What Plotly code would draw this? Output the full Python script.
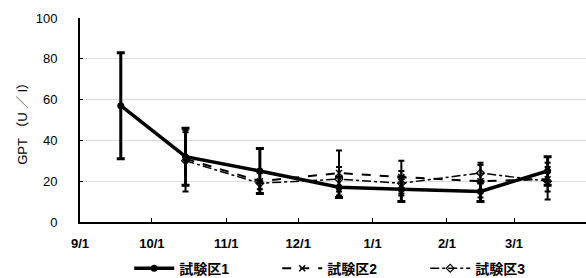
import plotly.graph_objects as go

# ---- data ----
dates1 = ["2010-09-18", "2010-10-15", "2010-11-15", "2010-12-18", "2011-01-13", "2011-02-15", "2011-03-15"]
s1 = [57, 32, 25, 17, 16, 15, 25]
e1 = [26, 14, 11, 5, 6, 5, 7]

dates23 = ["2010-10-15", "2010-11-15", "2010-12-18", "2011-01-13", "2011-02-15", "2011-03-15"]
s2 = [31, 20, 24, 22, 20, 21]
e2 = [13, 4, 11, 8, 8, 6]
s3 = [30, 19, 21, 19, 24, 20]
e3 = [15, 5, 6, 6, 5, 9]

names = ["試験区1", "試験区2", "試験区3"]
tick_vals = ["2010-09-01", "2010-10-01", "2010-11-01", "2010-12-01", "2011-01-01", "2011-02-01", "2011-03-01"]
tick_text = ["9/1", "10/1", "11/1", "12/1", "1/1", "2/1", "3/1"]
y_ticks = [0, 20, 40, 60, 80, 100]
y_title = "GPT （U ／ l）"

FONT = "Liberation Sans Narrow, Arial Narrow, Liberation Sans, Noto Sans CJK JP"

fig = go.Figure()
fig.add_trace(go.Scatter(
    x=dates23, y=s3, name=names[2], mode="lines+markers",
    line=dict(color="black", width=1.5, dash="dashdot"),
    marker=dict(symbol="diamond-open", size=6, color="black", line=dict(width=1.2)),
    error_y=dict(type="data", array=e3, color="black", thickness=2, width=3),
))
fig.add_trace(go.Scatter(
    x=dates23, y=s2, name=names[1], mode="lines+markers",
    line=dict(color="black", width=2, dash="dash"),
    marker=dict(symbol="x-thin", size=6, color="black", line=dict(width=1.5, color="black")),
    error_y=dict(type="data", array=e2, color="black", thickness=2, width=3),
))
fig.add_trace(go.Scatter(
    x=dates1, y=s1, name=names[0], mode="lines+markers",
    line=dict(color="black", width=3.5),
    marker=dict(symbol="circle", size=7, color="black"),
    error_y=dict(type="data", array=e1, color="black", thickness=3, width=4),
))

fig.update_layout(
    width=586, height=278,
    margin=dict(l=80, r=0, t=18, b=56, autoexpand=False),
    paper_bgcolor="white", plot_bgcolor="white",
    font=dict(family=FONT, size=12, color="black"),
    showlegend=True,
    legend=dict(orientation="h", x=0.536, xanchor="center", y=-0.15, yanchor="top",
                traceorder="reversed", font=dict(size=14, family=FONT, weight="bold"),
                itemwidth=40, entrywidth=93, bgcolor="rgba(0,0,0,0)"),
    annotations=[dict(text=y_title, textangle=-90, xref="paper", yref="paper",
                      x=-0.115, y=0.5, xanchor="center", yanchor="middle",
                      showarrow=False, font=dict(size=13, family=FONT))],
)
fig.update_xaxes(
    type="date", range=["2010-09-01", "2011-03-31"],
    tickvals=tick_vals, ticktext=tick_text,
    tickfont=dict(size=13, family=FONT, weight="bold"),
    showline=True, linecolor="black", linewidth=2,
    ticks="inside", ticklen=4, tickcolor="black",
    ticklabelstandoff=8,
    showgrid=False, zeroline=False, automargin=False,
)
fig.update_yaxes(
    range=[0, 100], tickvals=y_ticks,
    tickfont=dict(size=13, family=FONT),
    showline=True, linecolor="black", linewidth=2,
    ticks="inside", ticklen=3, tickcolor="black",
    ticklabelstandoff=18,
    showgrid=True, gridcolor="#dddddd", gridwidth=1,
    zeroline=False, automargin=False,
)

fig.write_html("out.html", config={"displayModeBar": False},
               post_script="document.body.style.margin='0';document.body.style.overflow='hidden';")
